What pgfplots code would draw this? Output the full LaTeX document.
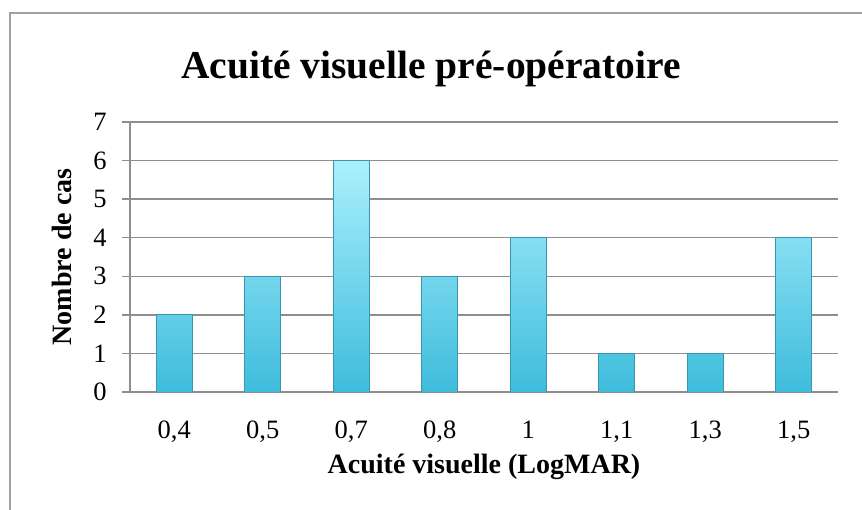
\documentclass[border=0pt]{standalone}
\usepackage{fontspec}
\setmainfont{Liberation Serif}
\usepackage{pgfplots}
\pgfplotsset{compat=1.18}
\definecolor{gridgray}{RGB}{142,142,142}
\definecolor{framegray}{RGB}{160,160,160}
\definecolor{bartop}{RGB}{170,240,253}
\definecolor{barbot}{RGB}{62,188,220}
\definecolor{bardraw}{RGB}{58,150,176}
\begin{document}
\begin{tikzpicture}
\path[use as bounding box] (0pt,0pt) rectangle (862pt,510pt);
\fill[white] (0pt,0pt) rectangle (862pt,510pt);
\draw[framegray, line width=1.2pt] (10pt,0pt) -- (10pt,497pt) -- (862pt,497pt);
\node[font=\fontsize{39.5}{42}\selectfont\bfseries] at (431pt,441pt) {Acuité visuelle pré-opératoire};
\begin{axis}[
  at={(130pt,118pt)}, anchor=south west,
  scale only axis, width=708pt, height=270pt,
  xmin=-0.5, xmax=7.5, ymin=0, ymax=7,
  axis x line*=bottom, axis y line*=left,
  axis line style={gridgray, line width=1.3pt, -},
  ymajorgrids, grid style={gridgray, line width=1.3pt},
  ytick={0,1,...,7},
  xtick={0,...,7},
  xticklabels={{0,4},{0,5},{0,7},{0,8},{1},{1,1},{1,3},{1,5}},
  x tick style={draw=none},
  y tick style={gridgray, line width=1.3pt},
  tick align=outside, major tick length=8pt,
  ticklabel style={font=\fontsize{26.5}{28}\selectfont},
  xticklabel style={anchor=base, yshift=-39pt},
  yticklabel style={anchor=center, xshift=-22pt},
  /pgf/number format/assume math mode=true,
  xlabel={Acuité visuelle (LogMAR)},
  ylabel={Nombre de cas},
  label style={font=\fontsize{28}{30}\selectfont\bfseries},
  xlabel style={at={(axis description cs:0.5,-0.276)}, anchor=center},
  ylabel style={at={(axis description cs:-0.096,0.5)}, anchor=center},
  ybar, bar width=36pt,
]
\addplot[ybar, bar shift=0pt, top color=bartop, bottom color=barbot, draw=bardraw, line width=0.8pt]
  coordinates {(0,2) (1,3) (2,6) (3,3) (4,4) (5,1) (6,1) (7,4)};
\end{axis}
\end{tikzpicture}
\end{document}
